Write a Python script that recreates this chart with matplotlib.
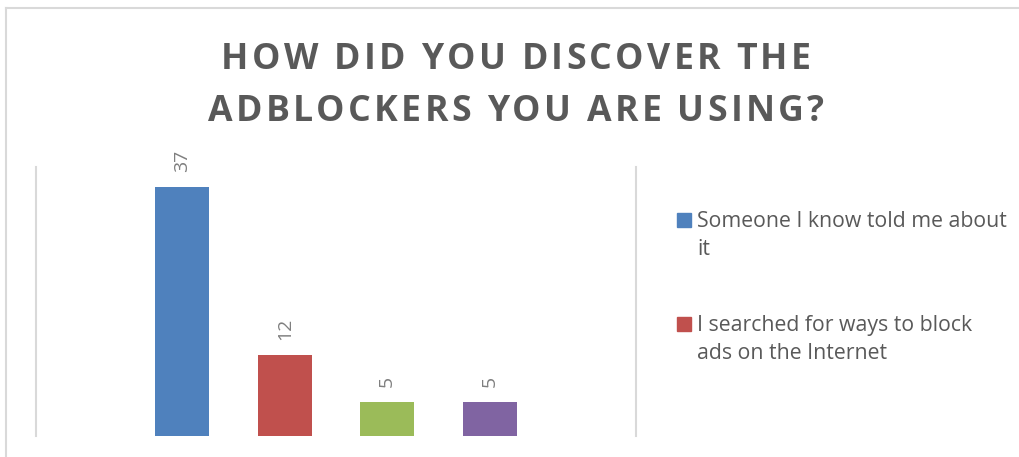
import matplotlib
matplotlib.use("Agg")
import matplotlib.pyplot as plt
from matplotlib.lines import Line2D
from matplotlib.patches import Rectangle

# survey answers
counts = [37, 12, 5, 5]
colors = ["#4F81BD", "#C0504D", "#9BBB59", "#8064A2"]
legend_labels = ["Someone I know told me about\nit",
                 "I searched for ways to block\nads on the Internet"]
title_lines = ["HOW DID YOU DISCOVER THE", "ADBLOCKERS YOU ARE USING?"]

W, H = 1019, 457
plt.rcParams['font.family'] = ['Open Sans', 'DejaVu Sans']
fig = plt.figure(figsize=(W / 100, H / 100), dpi=100)
renderer = fig.canvas.get_renderer()


def px(x, y):
    # pixel position (from top-left) -> figure fraction
    return x / W, 1 - y / H


# outer chart border (clipped on the right and bottom)
border = dict(color="#D9D9D9", lw=1.5, transform=fig.transFigure)
fig.add_artist(Line2D([6 / W, 1], [1 - 8 / H, 1 - 8 / H], **border))
fig.add_artist(Line2D([6 / W, 6 / W], [0, 1 - 8 / H], **border))

# plot area
x0, x1, y_top, y_bot = 36, 636, 167, 435.5
ax = fig.add_axes([x0 / W, 1 - y_bot / H, (x1 - x0) / W, (y_bot - y_top) / H])
ax.set_xlim(-0.5, 0.5)
ax.set_ylim(0, 40)
for s in ["top", "bottom"]:
    ax.spines[s].set_visible(False)
for s in ["left", "right"]:
    ax.spines[s].set_color("#D9D9D9")
    ax.spines[s].set_linewidth(1.5)
ax.set_xticks([])
ax.set_yticks([])

step = 102.5 / (x1 - x0)
width = 54 / (x1 - x0)
for i, (v, c) in enumerate(zip(counts, colors)):
    xc = (i - 1.5) * step
    ax.bar(xc, v, width=width, color=c)
    ax.annotate(str(v), (xc, v), xytext=(0, 11), textcoords="offset points",
                rotation=90, ha="center", va="bottom", fontsize=14,
                color="#7F7F7F")


# title with extra letter spacing
def char_width(ch, **kw):
    a = fig.text(0, 0, "|" + ch + "|", **kw)
    b = fig.text(0, 0, "||", **kw)
    w = a.get_window_extent(renderer).width - b.get_window_extent(renderer).width
    a.remove()
    b.remove()
    return w


title_kw = dict(fontsize=25.7, fontweight="bold", color="#595959")
track = 3.3
for line, base in zip(title_lines, [69, 121]):
    widths = [char_width(ch, **title_kw) for ch in line]
    total = sum(widths) + track * (len(line) - 1)
    x = 516 - total / 2
    for ch, w in zip(line, widths):
        if ch != " ":
            fig.text(*px(x, base), ch, ha="left", va="baseline", **title_kw)
        x += w + track

# legend (only the entries that fit are shown)
line_gap = 28
for lab, c, base in zip(legend_labels, colors, [227, 331]):
    fig.add_artist(Rectangle(px(677, base), 14 / W, 14 / H,
                             color=c, transform=fig.transFigure))
    # multi-line text aligns on its last baseline
    n_extra = lab.count("\n")
    fig.text(*px(697, base + n_extra * line_gap), lab, ha="left",
             va="baseline", fontsize=15.3, color="#595959", linespacing=1.42)

fig.savefig("out.png", dpi=100)
